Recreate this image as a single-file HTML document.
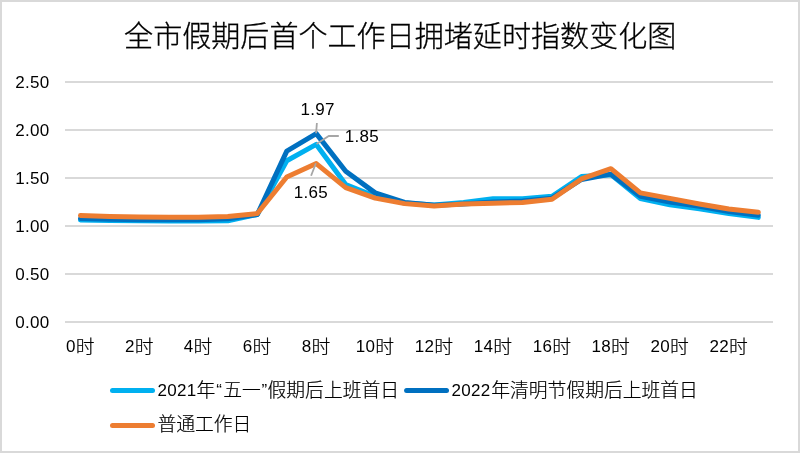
<!DOCTYPE html>
<html lang="zh-CN"><head><meta charset="utf-8"><title>全市假期后首个工作日拥堵延时指数变化图</title>
<style>
html,body{margin:0;padding:0;background:#fff;}
body{width:800px;height:453px;overflow:hidden;}
svg{display:block;}
text{font-family:"Liberation Sans","Noto Sans CJK SC",sans-serif;fill:#000;}
.t{font-size:29.07px;font-weight:300;stroke:#000;stroke-width:0.3px;}
.d{font-size:17px;letter-spacing:0.28px;}
.c{font-size:18.8px;font-weight:300;stroke:#000;stroke-width:0.2px;}
.g{stroke:#D9D9D9;stroke-width:2;fill:none;}
.l{stroke:#A6A6A6;stroke-width:1.8;fill:none;}
.s{fill:none;stroke-width:5;stroke-linecap:round;stroke-linejoin:round;}
</style></head><body>
<svg width="800" height="453" viewBox="0 0 800 453">
<rect x="0" y="0" width="800" height="453" fill="#fff"/>
<rect x="1" y="1" width="798" height="451" fill="none" stroke="#D9D9D9" stroke-width="2"/>
<text class="t" x="400.2" y="47" text-anchor="middle">全市假期后首个工作日拥堵延时指数变化图</text>
<line class="g" x1="65" y1="82" x2="773" y2="82"/>
<line class="g" x1="65" y1="130" x2="773" y2="130"/>
<line class="g" x1="65" y1="178" x2="773" y2="178"/>
<line class="g" x1="65" y1="226" x2="773" y2="226"/>
<line class="g" x1="65" y1="274" x2="773" y2="274"/>
<line class="g" x1="65" y1="322" x2="773" y2="322"/>
<text class="d" x="49.4" y="88.1" text-anchor="end">2.50</text>
<text class="d" x="49.4" y="136.1" text-anchor="end">2.00</text>
<text class="d" x="49.4" y="184.1" text-anchor="end">1.50</text>
<text class="d" x="49.4" y="232.1" text-anchor="end">1.00</text>
<text class="d" x="49.4" y="280.1" text-anchor="end">0.50</text>
<text class="d" x="49.4" y="328.1" text-anchor="end">0.00</text>
<polyline class="s" stroke="#00B0F0" points="80.48,219.95 109.95,220.43 139.43,220.82 168.89,221.01 198.37,221.01 227.83,220.72 257.31,214.48 286.77,160.72 316.25,144.40 345.71,184.53 375.19,196.24 404.65,202.96 434.12,204.88 463.59,202.48 493.06,198.64 522.53,198.64 552.00,196.24 581.48,176.56 610.94,174.64 640.41,198.64 669.88,204.88 699.36,208.72 728.82,213.52 758.29,217.36"/>
<polyline class="s" stroke="#0070C0" points="80.48,218.51 109.95,219.18 139.43,219.66 168.89,219.86 198.37,219.76 227.83,218.80 257.31,214.48 286.77,151.12 316.25,133.65 345.71,171.28 375.19,192.88 404.65,202.48 434.12,205.36 463.59,203.92 493.06,202.00 522.53,201.04 552.00,198.16 581.48,179.44 610.94,174.16 640.41,196.24 669.88,202.00 699.36,206.32 728.82,211.60 758.29,215.15"/>
<polyline class="s" stroke="#ED7D31" points="80.48,215.54 109.95,216.40 139.43,217.07 168.89,217.36 198.37,217.36 227.83,216.40 257.31,213.52 286.77,177.04 316.25,163.60 345.71,187.60 375.19,198.16 404.65,203.63 434.12,206.03 463.59,204.11 493.06,203.15 522.53,202.48 552.00,199.31 581.48,178.96 610.94,168.69 640.41,192.88 669.88,198.35 699.36,203.92 728.82,209.01 758.29,212.18"/>
<polyline class="l" points="316.9,123 316.1,133.2"/>
<polyline class="l" points="338.8,136 328.8,136 316.5,144"/>
<polyline class="l" points="311.1,175.7 315.9,163.2"/>
<text class="d" x="317.6" y="115" text-anchor="middle">1.97</text>
<text class="d" x="361.8" y="142" text-anchor="middle">1.85</text>
<text class="d" x="310.8" y="197.5" text-anchor="middle">1.65</text>
<text x="65.97" y="352.3"><tspan class="d">0</tspan><tspan class="c" dy="1.4">时</tspan></text>
<text x="124.92" y="352.3"><tspan class="d">2</tspan><tspan class="c" dy="1.4">时</tspan></text>
<text x="183.86" y="352.3"><tspan class="d">4</tspan><tspan class="c" dy="1.4">时</tspan></text>
<text x="242.80" y="352.3"><tspan class="d">6</tspan><tspan class="c" dy="1.4">时</tspan></text>
<text x="301.74" y="352.3"><tspan class="d">8</tspan><tspan class="c" dy="1.4">时</tspan></text>
<text x="355.87" y="352.3"><tspan class="d">10</tspan><tspan class="c" dy="1.4">时</tspan></text>
<text x="414.81" y="352.3"><tspan class="d">12</tspan><tspan class="c" dy="1.4">时</tspan></text>
<text x="473.75" y="352.3"><tspan class="d">14</tspan><tspan class="c" dy="1.4">时</tspan></text>
<text x="532.68" y="352.3"><tspan class="d">16</tspan><tspan class="c" dy="1.4">时</tspan></text>
<text x="591.62" y="352.3"><tspan class="d">18</tspan><tspan class="c" dy="1.4">时</tspan></text>
<text x="650.56" y="352.3"><tspan class="d">20</tspan><tspan class="c" dy="1.4">时</tspan></text>
<text x="709.50" y="352.3"><tspan class="d">22</tspan><tspan class="c" dy="1.4">时</tspan></text>
<line class="s" stroke="#00B0F0" x1="112.5" y1="390.5" x2="152.5" y2="390.5"/>
<text x="157.5" y="395.6"><tspan class="d">2021</tspan><tspan class="c" dx="0" dy="0.9">年</tspan><tspan class="d" dx="1.0" dy="-0.9">“</tspan><tspan class="c" dx="1.0" dy="0.9">五一</tspan><tspan class="d" dx="0.85" dy="-0.9">”</tspan><tspan class="c" dx="0" dy="0.9">假期后上班首日</tspan></text>
<line class="s" stroke="#0070C0" x1="406.6" y1="390.5" x2="446.5" y2="390.5"/>
<text x="451.5" y="395.6"><tspan class="d">2022</tspan><tspan class="c" dx="0.8" dy="0.9">年清明节假期后上班首日</tspan></text>
<line class="s" stroke="#ED7D31" x1="112.5" y1="425.5" x2="152.5" y2="425.5"/>
<text class="c" x="157.5" y="430.6">普通工作日</text>
</svg>
</body></html>
